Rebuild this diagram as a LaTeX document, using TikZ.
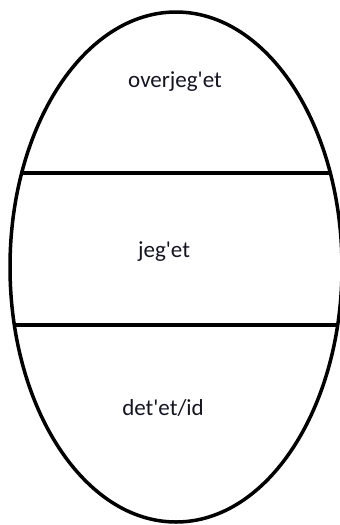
\documentclass[tikz,border=0pt]{standalone}
\usepackage{fontspec}
\setmainfont{Carlito}
\definecolor{inktext}{RGB}{20,20,35}
\tikzset{
layer/.style={font=\fontsize{23}{27}\selectfont, text=inktext, inner sep=0pt},
rim/.style={line width=3.5pt}
}
\begin{document}
\begin{tikzpicture}[x=1pt,y=-1pt]
\useasboundingbox (0,0) rectangle (340,525);
\clip (0,0) rectangle (340,525);

\coordinate (egg) at (176,267);
\begin{scope}
\clip (egg) ellipse [x radius=166, y radius=255];
\draw[rim] (0,173) -- (340,173);
\draw[rim] (0,325) -- (340,325);
\end{scope}
\draw[rim] (egg) ellipse [x radius=166, y radius=255];

\node[layer] (superego) at (175,82) {overjeg\textquotesingle et};
\node[layer] (ego) at (164,252) {jeg\textquotesingle et};
\node[layer] (id) at (163,408) {det\textquotesingle et/id};

\end{tikzpicture}
\end{document}
